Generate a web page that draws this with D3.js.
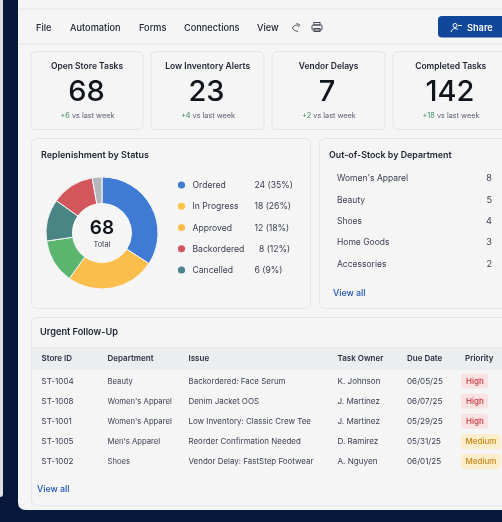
<!DOCTYPE html>
<html>
<head>
<meta charset="utf-8">
<script src="https://cdn.jsdelivr.net/npm/d3@7"></script>
<style>
  html, body { margin: 0; padding: 0; background: #06193a; overflow: hidden; }
  svg { display: block; filter: blur(0.35px); }
  text { font-family: Inter, "Noto Sans", sans-serif; }
</style>
</head>
<body>
<svg id="chart" width="502" height="522"></svg>
<script>
// menu
const menuLabels = ['File', 'Automation', 'Forms', 'Connections', 'View'];
const menuX = [36, 70, 139, 184, 257];

// kpi cards
const kpiTitles = ['Open Store Tasks', 'Low Inventory Alerts', 'Vendor Delays', 'Completed Tasks'];
const kpiValues = [68, 23, 7, 142];
const kpiDeltas = ['+6', '+4', '+2', '+18'];

// donut, slice sizes (percent of the ring)
const sliceNames = ['Ordered', 'In Progress', 'Approved', 'Backordered', 'Cancelled', 'Other'];
const sliceShares = [34.2, 25.7, 12.8, 12.1, 12.4, 2.8];
const sliceColors = ['#3f7bd4', '#fbbd4c', '#5cb56f', '#4a8585', '#d2575d', '#b4b7bd'];

// legend
const legendNames = ['Ordered', 'In Progress', 'Approved', 'Backordered', 'Cancelled'];
const legendCounts = [24, 18, 12, 8, 6];
const legendPcts = [35, 26, 18, 12, 9];
const legendColors = ['#3f7bd4', '#fcc344', '#fbbd4c', '#d2575d', '#4a8290'];

// out of stock
const deptNames = ["Women's Apparel", 'Beauty', 'Shoes', 'Home Goods', 'Accessories'];
const deptCounts = [8, 5, 4, 3, 2];

// urgent table
const tableHeaders = ['Store ID', 'Department', 'Issue', 'Task Owner', 'Due Date', 'Priority'];
const storeIds = ['ST-1004', 'ST-1008', 'ST-1001', 'ST-1005', 'ST-1002'];
const departments = ['Beauty', "Women's Apparel", "Women's Apparel", "Men's Apparel", 'Shoes'];
const issues = ['Backordered: Face Serum', 'Denim Jacket OOS', 'Low Inventory: Classic Crew Tee', 'Reorder Confirmation Needed', 'Vendor Delay: FastStep Footwear'];
const owners = ['K. Johnson', 'J. Martinez', 'J. Martinez', 'D. Ramirez', 'A. Nguyen'];
const dueDates = ['06/05/25', '06/07/25', '05/29/25', '05/31/25', '06/01/25'];
const priorities = ['High', 'High', 'High', 'Medium', 'Medium'];

let svg = d3.select('#chart');
const ink = '#1c2230', body = '#3a4050', border = '#e3e4e6', panel = '#f5f5f5';

function label(parent, x, y, str, size, weight, fill, anchor) {
    return parent.append('text')
        .attr('x', x).attr('y', y)
        .attr('font-size', size)
        .attr('font-weight', weight || 400)
        .attr('fill', fill || body)
        .attr('text-anchor', anchor || 'start')
        .text(str);
}

function card(x, y, w, h) {
    return svg.append('rect')
        .attr('x', x).attr('y', y).attr('width', w).attr('height', h).attr('rx', 5)
        .attr('fill', panel).attr('stroke', border).attr('stroke-width', 1);
}

// page frame
svg.append('path').attr('d', 'M0,0H3V494Q3,497 0,497Z').attr('fill', '#dfe0e2');
svg.append('path')
    .attr('d', 'M18,0H502V510H26Q18,510 18,502Z')
    .attr('fill', panel);
svg.append('line').attr('x1', 18).attr('x2', 502).attr('y1', 9).attr('y2', 9).attr('stroke', border);
svg.append('line').attr('x1', 18).attr('x2', 502).attr('y1', 44).attr('y2', 44).attr('stroke', border);

// toolbar
svg.selectAll('text.menu').data(menuLabels).join('text')
    .attr('class', 'menu')
    .attr('x', (d, i) => menuX[i]).attr('y', 31)
    .attr('font-size', 9.2).attr('font-weight', 500).attr('fill', ink)
    .text(d => d);

// undo + print glyphs
svg.append('path')
    .attr('d', 'M298,25C295,25 292.5,26.5 292.5,28C293,29.5 295,31 298,31.5M296.5,23.5L299.5,24.5L298.5,27')
    .attr('fill', 'none').attr('stroke', '#444a58').attr('stroke-width', 0.9);
let printer = svg.append('g').attr('fill', 'none').attr('stroke', '#444a58').attr('stroke-width', 1);
printer.append('rect').attr('x', 312).attr('y', 25).attr('width', 10).attr('height', 5).attr('rx', 1);
printer.append('rect').attr('x', 314).attr('y', 22.5).attr('width', 6).attr('height', 2.5);
printer.append('rect').attr('x', 314).attr('y', 28.5).attr('width', 6).attr('height', 3);

// share button
svg.append('path').attr('d', 'M442,16H502V37.5H442Q438,37.5 438,33.5V20Q438,16 442,16Z').attr('fill', '#10479a');
svg.append('circle').attr('cx', 455).attr('cy', 25.5).attr('r', 2).attr('fill', 'none').attr('stroke', '#fff');
svg.append('path')
    .attr('d', 'M451,32C452,28.5 455,27.5 458,29.5M458,25.5H462')
    .attr('fill', 'none').attr('stroke', '#fff').attr('stroke-width', 1);
label(svg, 467, 31, 'Share', 9.2, 600, '#fff');

// kpi cards
const kpiX = [31, 151, 272, 393];
const kpiW = [112, 113, 113, 120];
const titleCenter = [87, 207.7, 328.7, 450.7];
const valueCenter = [86.5, 206.5, 327, 450];
const subCenter = [87.5, 208, 329, 451];
kpiTitles.forEach((t, i) => {
    card(kpiX[i], 51.5, kpiW[i], 78);
    label(svg, titleCenter[i], 68.5, t, 8.5, 600, ink, 'middle');
    label(svg, valueCenter[i], 100.8, kpiValues[i], 29, 500, '#10141b', 'middle');
    let sub = label(svg, subCenter[i], 118, '', 7.3, 400, '#5a6070', 'middle');
    sub.append('tspan').attr('fill', '#3f8a5c').text(kpiDeltas[i]);
    sub.append('tspan').text(' vs last week');
});

// replenishment panel
card(31.5, 138.5, 279, 170);
label(svg, 41, 157.5, 'Replenishment by Status', 9, 600, ink);

let pie = d3.pie().sort(null).value((d, i) => sliceShares[i]);
let arc = d3.arc().innerRadius(29.5).outerRadius(56);
let donut = svg.append('g').attr('transform', 'translate(102,233)');
donut.selectAll('path').data(pie(sliceNames)).join('path')
    .attr('d', arc)
    .attr('fill', (d, i) => sliceColors[i])
    .attr('stroke', '#f7f7f7').attr('stroke-width', 1);
label(donut, 0, 1, kpiValues[0], 19, 600, '#10141b', 'middle');
label(donut, 0, 13.7, 'Total', 7.4, 400, body, 'middle');

let legendY = d3.scalePoint().domain(legendNames).range([185, 270]);
let legend = svg.append('g').selectAll('g').data(legendNames).join('g')
    .attr('transform', d => `translate(0,${legendY(d)})`);
legend.append('circle').attr('cx', 181.5).attr('r', 3.6).attr('fill', (d, i) => legendColors[i]);
legend.append('text').attr('x', 192.5).attr('y', 3.2)
    .attr('font-size', 8.6).attr('fill', body).text(d => d);
legend.append('text').attr('x', (d, i) => legendCounts[i] < 10 && legendPcts[i] > 9 ? 259 : 254.5).attr('y', 3.2)
    .attr('font-size', 8.6).attr('fill', body)
    .text((d, i) => `${legendCounts[i]} (${legendPcts[i]}%)`);

// out of stock panel
card(319.5, 138.5, 200, 170);
label(svg, 329, 157.5, 'Out-of-Stock by Department', 8.9, 600, ink);
let deptY = d3.scalePoint().domain(deptNames).range([178, 263.5]);
let dept = svg.append('g').selectAll('g').data(deptNames).join('g')
    .attr('transform', d => `translate(0,${deptY(d)})`);
dept.append('text').attr('x', 337).attr('y', 3.2).attr('font-size', 8.5).attr('fill', body).text(d => d);
dept.append('text').attr('x', 492).attr('y', 3.2).attr('font-size', 9.2).attr('fill', body)
    .attr('text-anchor', 'end').text((d, i) => deptCounts[i]);
label(svg, 333, 296, 'View all', 8.8, 500, '#1f55b5');

// urgent table
card(31.5, 317.5, 500, 188);
label(svg, 40, 334.5, 'Urgent Follow-Up', 9.2, 600, ink);
svg.append('rect').attr('x', 32).attr('y', 347).attr('width', 470).attr('height', 23).attr('fill', '#ecedef');

const columnX = [41.5, 107.5, 188.5, 337.5, 407];
const headerX = columnX.concat([465]);
svg.selectAll('text.head').data(tableHeaders).join('text')
    .attr('class', 'head')
    .attr('x', (d, i) => headerX[i]).attr('y', 361)
    .attr('font-size', 8).attr('font-weight', 600).attr('fill', '#2a3040')
    .text(d => d);

const rowSizes = [8.1, 7.7, 7.95, 8.1, 8.1];
let rowY = d3.scalePoint().domain(storeIds).range([381, 461.5]);
let rows = svg.append('g').selectAll('g').data(storeIds).join('g')
    .attr('transform', d => `translate(0,${rowY(d)})`);
[storeIds, departments, issues, owners, dueDates].forEach((col, c) => {
    rows.append('text')
        .attr('x', columnX[c]).attr('y', 2.8)
        .attr('font-size', rowSizes[c])
        .attr('fill', body)
        .text((d, i) => col[i]);
});
rows.append('rect')
    .attr('x', 461).attr('y', -7.5).attr('rx', 3)
    .attr('width', (d, i) => priorities[i] === 'High' ? 27 : 39.5).attr('height', 15)
    .attr('fill', (d, i) => priorities[i] === 'High' ? '#f9e2e1' : '#fdeecb');
rows.append('text')
    .attr('x', (d, i) => priorities[i] === 'High' ? 466 : 465.5).attr('y', 2.8)
    .attr('font-size', 8).attr('font-weight', 500)
    .attr('fill', (d, i) => priorities[i] === 'High' ? '#c8323a' : '#c98414')
    .text((d, i) => priorities[i]);

label(svg, 37, 492, 'View all', 8.8, 500, '#1f55b5');
</script>
</body>
</html>
